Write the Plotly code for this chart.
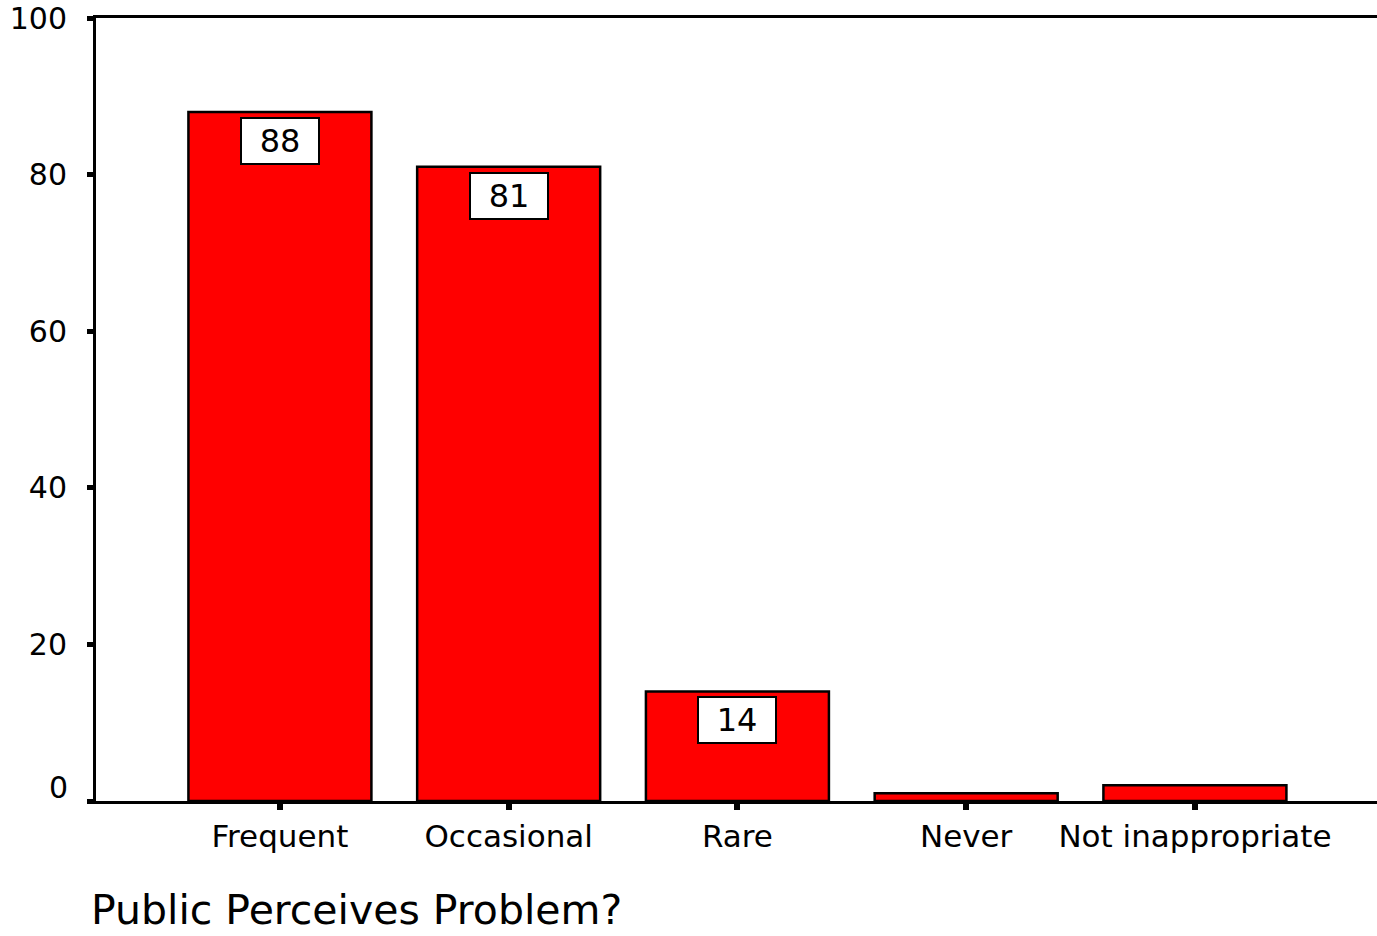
import plotly.graph_objects as go

categories = ["Frequent", "Occasional", "Rare", "Never", "Not inappropriate"]
counts = [88, 81, 14, 1, 2]
labeled = [True, True, True, False, False]
y_ticks = [0, 20, 40, 60, 80, 100]
y_tick_text = ["", "20", "40", "60", "80", "100"]

FONT = "DejaVu Sans, Verdana, sans-serif"

fig = go.Figure()
fig.add_trace(go.Bar(
    x=list(range(len(categories))),
    y=counts,
    width=0.8,
    marker=dict(color="#ff0000", line=dict(color="black", width=2.5)),
    hoverinfo="skip",
))

for i, (v, show) in enumerate(zip(counts, labeled)):
    if show:
        fig.add_annotation(
            x=i, y=v, xref="x", yref="y",
            text=str(v), showarrow=False,
            yanchor="top", yshift=-5,
            bgcolor="white", bordercolor="black", borderwidth=2,
            borderpad=2, width=72, height=40,
            font=dict(family=FONT, size=32, color="black"),
        )

# the "0" tick label sits slightly above its tick in the reference
fig.add_annotation(
    x=0, y=y_ticks[0], xref="paper", yref="y",
    text="0", showarrow=False, xanchor="right", yanchor="middle",
    xshift=-26, yshift=14,
    font=dict(family=FONT, size=30, color="black"),
)

fig.add_annotation(
    x=0, y=-0.139, xref="paper", yref="paper",
    xanchor="left", yanchor="middle", showarrow=False, xshift=-7,
    text="Public Perceives Problem?",
    font=dict(family=FONT, size=41, color="black"),
)

fig.update_layout(
    width=1377, height=936,
    margin=dict(l=96, r=0, t=15, b=135, pad=0),
    paper_bgcolor="white", plot_bgcolor="white",
    showlegend=False,
    font=dict(family=FONT, color="black"),
)
fig.update_xaxes(
    range=[-0.804, 4.796],
    tickmode="array", tickvals=list(range(len(categories))), ticktext=categories,
    showline=True, linecolor="black", linewidth=3, mirror=True,
    ticks="outside", ticklen=6, tickwidth=6, tickcolor="black",
    ticklabelstandoff=0,
    showgrid=False, zeroline=False,
    tickfont=dict(family=FONT, size=31, color="black"),
)
fig.update_yaxes(
    range=[0, 100],
    tickmode="array", tickvals=y_ticks, ticktext=y_tick_text,
    showline=True, linecolor="black", linewidth=3,
    ticks="outside", ticklen=6, tickwidth=5, tickcolor="black",
    ticklabelstandoff=14, ticklabeloverflow="allow",
    showgrid=False, zeroline=False,
    tickfont=dict(family=FONT, size=30, color="black"),
)

fig.write_html("out.html", config={"displayModeBar": False},
               post_script="document.body.style.margin='0';")
